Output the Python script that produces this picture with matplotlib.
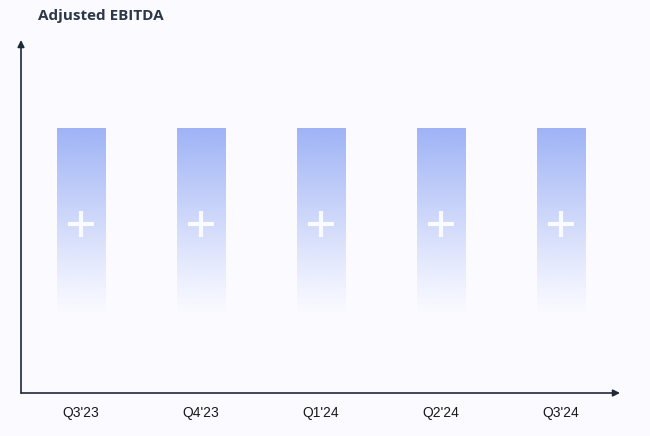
import numpy as np
import matplotlib.pyplot as plt
from matplotlib.colors import to_rgb

quarters = ["Q3'23", "Q4'23", "Q1'24", "Q2'24", "Q3'24"]
ebitda = [1.0, 1.0, 1.0, 1.0, 1.0]  # placeholder bars, all the same height

bg = '#fafaff'
bar_color = '#9fb3f6'
axis_color = '#1e2a3a'

fig = plt.figure(figsize=(6.5, 4.36), dpi=100, facecolor=bg)
ax = fig.add_axes([21 / 650, 43 / 436, 599 / 650, 353 / 436])
ax.set_facecolor(bg)

x = np.arange(len(quarters))
ax.set_xlim(-0.5, 4.49)
ax.set_ylim(0, 1.333)

# gradient bars: solid at the top, fading out towards the base
r, g, b = to_rgb(bar_color)
for xi, val in zip(x, ebitda):
    h = np.linspace(0, 1, 200)[:, None]
    alpha = np.clip((h - 0.3) / 0.7, 0, 1) ** 1.1
    img = np.zeros((200, 1, 4))
    img[..., 0], img[..., 1], img[..., 2] = r, g, b
    img[..., 3] = alpha
    ax.imshow(img, extent=(xi - 0.2, xi + 0.2, 0, val), origin='lower',
              aspect='auto', interpolation='bilinear', zorder=2)
    ax.plot(xi, val * 0.48 / 0.75, marker='+', markersize=19, mew=3,
            color='white', alpha=0.9, zorder=3)

for s in ax.spines.values():
    s.set_visible(False)

ax.annotate('', xy=(0, 1.0), xytext=(0, 0), xycoords='axes fraction',
            arrowprops=dict(arrowstyle='-|>', color=axis_color, lw=1.2,
                            shrinkA=0, shrinkB=0, mutation_scale=10))
ax.annotate('', xy=(1.0, 0), xytext=(0, 0), xycoords='axes fraction',
            arrowprops=dict(arrowstyle='-|>', color=axis_color, lw=1.2,
                            shrinkA=0, shrinkB=0, mutation_scale=10))

ax.set_xticks(x)
ax.set_xticklabels(quarters, fontsize=10, family='Liberation Sans', color='#1a1a1a')
ax.tick_params(axis='x', length=0, pad=9)
ax.set_yticks([])

fig.text(38 / 650, 1 - 16 / 436, 'Adjusted EBITDA', fontsize=11, fontweight='bold',
         family='Open Sans', color='#2d3748', va='center', ha='left')

fig.savefig('out.png', dpi=100, facecolor=bg)
